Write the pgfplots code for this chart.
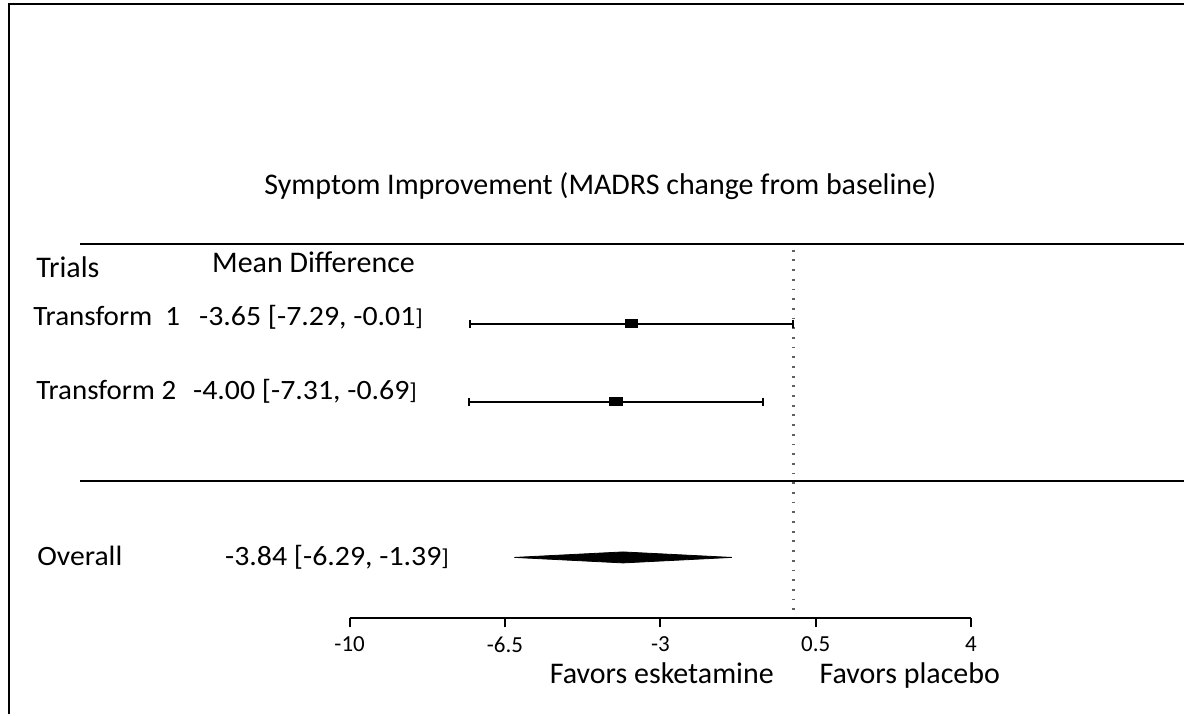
\documentclass[border=0pt]{standalone}
\usepackage{fontspec}
\setmainfont{Carlito}
\usepackage{graphicx}
\usepackage{pgfplots}
\pgfplotsset{compat=1.18}
\newcommand\lbl{\fontsize{15}{18}\selectfont}
\newcommand\rb{{\fontsize{11.5}{12}\selectfont]}}
% row text, fitted to the reference width
\newcommand\wide[2]{\resizebox{#1}{\height}{\fontsize{14}{16}\selectfont #2}}
\begin{document}
\begin{tikzpicture}
% 1 px = 0.5pt; x in data units, y = -pixel row
\begin{axis}[
  x=22.215pt, y=0.5pt,
  xmin=-10, xmax=4, ymin=-619, ymax=-245,
  axis x line*=bottom, axis y line=none,
  axis line style={line width=1pt},
  xtick={-10,-6.5,-3,0.5,4},
  xticklabels={-10,-6.5,-3,0.5,4},
  tick align=outside,
  major tick length=4.5pt,
  x tick style={line width=1pt, black},
  xticklabel style={font=\fontsize{11.5}{13}\selectfont, inner sep=1pt, yshift=-3.5pt},
  clip=false,
]
% page extent and frame
\path (axis cs:-17.878,0) rectangle (axis cs:8.793,-715);
\draw[line width=1.25pt] (axis cs:-17.675,-715) -- (axis cs:-17.675,-4) -- (axis cs:8.793,-4);
\draw[line width=1pt] (axis cs:-16.077,-244) -- (axis cs:8.793,-244);
\draw[line width=1pt] (axis cs:-16.077,-481) -- (axis cs:8.793,-481);

% line of no effect
\addplot[gray!75!black, line width=1.1pt, dash pattern=on 0.9pt off 3.95pt] coordinates {(0,-250) (0,-612)};

% trials
\addplot[black, only marks, mark=square*, mark size=2.1pt, mark options={xscale=1.45},
  error bars/.cd, x dir=both, x explicit,
  error bar style={line width=1pt},
  error mark=|, error mark options={line width=1pt, mark size=2pt}]
  coordinates {(-3.65,-324) +- (3.64,0) (-4.00,-402) +- (3.31,0)};

% overall
\addplot[black, fill=black] coordinates {(-6.29,-558) (-3.84,-552.5) (-1.39,-558) (-3.84,-563.5)} -- cycle;

% text
\node[anchor=base, font=\lbl] at (axis cs:-4.351,-195) {Symptom Improvement (MADRS change from baseline)};
\node[anchor=base west, inner sep=0pt, font=\lbl] at (axis cs:-17.067,-278) {Trials};
\node[anchor=base west, inner sep=0pt, font=\lbl] at (axis cs:-13.106,-273) {Mean Difference};
\node[anchor=base west, inner sep=0pt] at (axis cs:-17.135,-326) {\wide{73.5pt}{Transform\ \ 1}};
\node[anchor=base west, inner sep=0pt] at (axis cs:-13.399,-326) {\wide{112pt}{-3.65 [-7.29, -0.01\rb}};
\node[anchor=base west, inner sep=0pt] at (axis cs:-17.067,-400) {\wide{70pt}{Transform 2}};
\node[anchor=base west, inner sep=0pt] at (axis cs:-13.534,-400) {\wide{112pt}{-4.00 [-7.31, -0.69\rb}};
\node[anchor=base west, inner sep=0pt] at (axis cs:-17.045,-566) {\wide{42.5pt}{Overall}};
\node[anchor=base west, inner sep=0pt] at (axis cs:-12.813,-566) {\wide{112pt}{-3.84 [-6.29, -1.39\rb}};
\node[anchor=base west, inner sep=0pt, font=\lbl] at (axis cs:-5.499,-684) {Favors esketamine};
\node[anchor=base west, inner sep=0pt, font=\lbl] at (axis cs:0.578,-684) {Favors placebo};
\end{axis}
\end{tikzpicture}
\end{document}
